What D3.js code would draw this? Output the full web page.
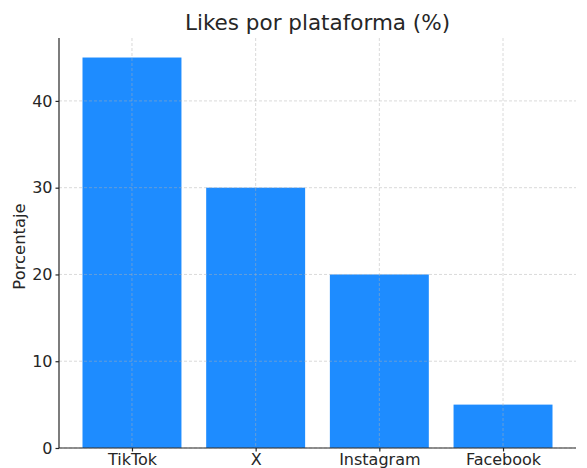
<!DOCTYPE html>
<meta charset="utf-8">
<script src="https://d3js.org/d3.v7.min.js"></script>
<style>
  body { margin: 0; background: #fff; }
  text { font-family: "DejaVu Sans", sans-serif; fill: #262626; }
</style>
<div id="chart"></div>
<script>

// data
var categories = ["TikTok", "X", "Instagram", "Facebook"]
var values = [45, 30, 20, 5]
var yTicks = [0, 10, 20, 30, 40]

var width = 587, height = 468
var margin = {top: 38, right: 11, bottom: 20, left: 59}
var innerW = width - margin.left - margin.right
var innerH = height - margin.top - margin.bottom

var svg = d3.select("#chart")
  .append("svg")
  .attr("width", width)
  .attr("height", height)

var g = svg.append("g")
  .attr("transform", "translate(" + margin.left + "," + margin.top + ")")

// x: bars of width 0.8 at integer positions, with 5% margins on both sides
var x = d3.scaleLinear()
  .domain([-0.59, categories.length - 1 + 0.59])
  .range([0, innerW])
var barW = x(0.8) - x(0)

var y = d3.scaleLinear()
  .domain([0, 47.25])
  .range([innerH, 0])

// bars
g.selectAll("rect.bar")
  .data(values)
  .enter()
  .append("rect")
    .attr("class", "bar")
    .attr("x", function(d, i){ return x(i) - barW / 2 })
    .attr("width", barW)
    .attr("y", function(d){ return y(d) })
    .attr("height", function(d){ return y(0) - y(d) })
    .style("fill", "#1e8cff")

// grid, drawn on top of the bars
var grid = g.append("g")
grid.selectAll("line.h")
  .data(yTicks)
  .enter()
  .append("line")
    .attr("x1", 0).attr("x2", innerW)
    .attr("y1", function(d){ return y(d) }).attr("y2", function(d){ return y(d) })
grid.selectAll("line.v")
  .data(categories)
  .enter()
  .append("line")
    .attr("x1", function(d, i){ return x(i) }).attr("x2", function(d, i){ return x(i) })
    .attr("y1", 0).attr("y2", innerH)
grid.selectAll("line")
  .style("stroke", "#b0b0b0")
  .style("stroke-opacity", 0.6)
  .style("stroke-width", 0.8)
  .style("stroke-dasharray", "3,2")

// axes
var yAxis = g.append("g")
  .call(d3.axisLeft(y).tickValues(yTicks).tickSize(3.5).tickPadding(3))
var xAxis = g.append("g")
  .attr("transform", "translate(0," + innerH + ")")
  .call(d3.axisBottom(x).tickValues(d3.range(categories.length))
    .tickFormat(function(i){ return categories[i] }).tickSize(3.5).tickPadding(2))

svg.selectAll(".tick text")
  .style("font-size", "16px")
  .style("font-family", "DejaVu Sans, sans-serif")
  .attr("fill", "#262626")
svg.selectAll(".domain, .tick line")
  .attr("stroke", "#262626")
  .attr("stroke-width", 1.2)
yAxis.select(".domain").attr("d", "M0," + innerH + "V0")
xAxis.select(".domain").attr("d", "M0,0H" + innerW)

// title
svg.append("text")
  .attr("x", margin.left + innerW / 2)
  .attr("y", 30)
  .attr("text-anchor", "middle")
  .style("font-size", "21.5px")
  .text("Likes por plataforma (%)")

// y label
svg.append("text")
  .attr("transform", "translate(25," + 246.5 + ") rotate(-90)")
  .attr("text-anchor", "middle")
  .style("font-size", "16.4px")
  .text("Porcentaje")

</script>
